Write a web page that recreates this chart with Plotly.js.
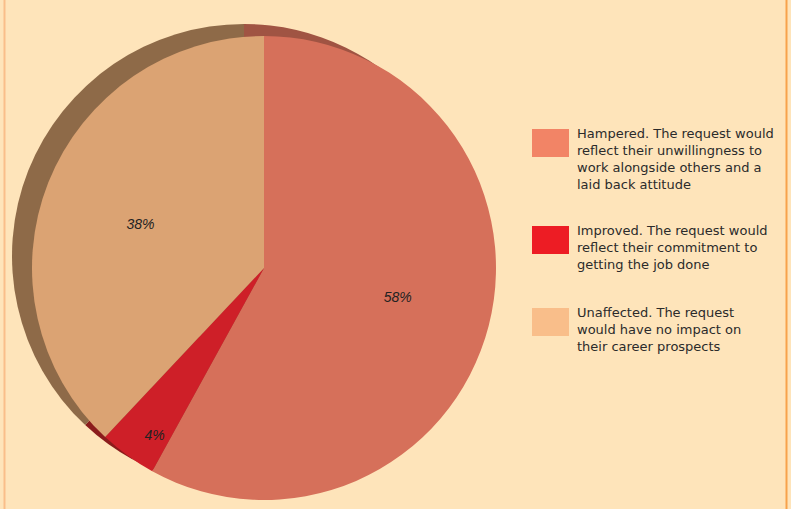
<!DOCTYPE html>
<html><head><meta charset="utf-8">
<script src="https://cdn.plot.ly/plotly-3.0.1.min.js"></script>
<style>html,body{margin:0;padding:0;background:#FEE4BA;}</style>
</head><body><div id="chart" style="width:791px;height:509px;"></div>
<script>
const categories = [
  "Hampered. The request would<br>reflect their unwillingness to<br>work alongside others and a<br>laid back attitude",
  "Improved. The request would<br>reflect their commitment to<br>getting the job done",
  "Unaffected. The request<br>would have no impact on<br>their career prospects"
];
const values = [58, 4, 38];
const faceColors = ["#D6705A", "#CE1F28", "#DBA373"];
const sideColors = ["#A05443", "#8B1C1C", "#8E6A48"];
const legendColors = ["#F28466", "#ED1C24", "#F9BE8A"];

const W = 791, H = 509;
const px = v => v / W, py = v => 1 - v / H;
// face pie: centre (264,268), r 232; side offset (-20,-12)
const cx = 264, cy = 268, r = 232, ox = -20, oy = -12;
const NB = '\u00A0';
// label nudges (non-breaking padding) to mimic the tilted pie's label placement
const labelTemplates = [NB.repeat(11) + '%{percent}', NB.repeat(6) + '%{percent}', '%{percent}' + NB.repeat(6)];

const side = {
  type: 'pie', values: values, labels: categories, sort: false, direction: 'clockwise', rotation: 0,
  marker: {colors: sideColors, line: {width: 0}}, textinfo: 'none', hoverinfo: 'skip', showlegend: false,
  domain: {x: [px(cx + ox - r), px(cx + ox + r)], y: [py(cy + oy + r), py(cy + oy - r)]}
};
const face = {
  type: 'pie', values: values, labels: categories, sort: false, direction: 'clockwise', rotation: 0,
  marker: {colors: faceColors, line: {width: 0}},
  texttemplate: labelTemplates, textposition: 'inside', insidetextorientation: 'horizontal',
  textfont: {family: 'Liberation Sans, Arial, sans-serif', size: 14, color: '#222', style: 'italic'},
  hoverinfo: 'skip', showlegend: false,
  domain: {x: [px(cx - r), px(cx + r)], y: [py(cy + r), py(cy - r)]}
};

const legendTop = [127, 224, 306];
const shapes = [
  {type: 'line', xref: 'paper', yref: 'paper', x0: px(4.5), x1: px(4.5), y0: 0, y1: 1, line: {color: '#F9BE8A', width: 2}},
  {type: 'line', xref: 'paper', yref: 'paper', x0: px(786.5), x1: px(786.5), y0: 0, y1: 1, line: {color: '#F7A24B', width: 2}}
];
const annotations = [];
categories.forEach((c, i) => {
  shapes.push({type: 'rect', xref: 'paper', yref: 'paper', x0: px(532), x1: px(569),
    y0: py(legendTop[i] + 2), y1: py(legendTop[i] + 30), fillcolor: legendColors[i], line: {width: 0}});
  annotations.push({xref: 'paper', yref: 'paper', x: px(575), y: py(legendTop[i] - 3), xanchor: 'left', yanchor: 'top',
    align: 'left', showarrow: false, text: c,
    font: {family: 'DejaVu Sans, sans-serif', size: 13, color: '#2B2B2B'}});
});

Plotly.newPlot('chart', [side, face], {
  width: W, height: H, margin: {l: 0, r: 0, t: 0, b: 0},
  paper_bgcolor: '#FEE4BA', plot_bgcolor: '#FEE4BA', showlegend: false,
  shapes: shapes, annotations: annotations
}, {displayModeBar: false, staticPlot: true});
</script></body></html>
